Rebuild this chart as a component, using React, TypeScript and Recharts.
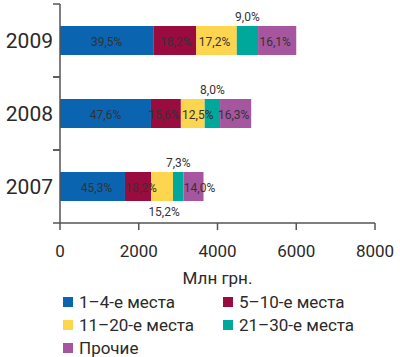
import React from "react";
import { BarChart, Bar, XAxis, YAxis, LabelList } from "recharts";

const YEARS = ["2009", "2008", "2007"];
const TOP4 = [2370, 2310, 1650];
const TOP10 = [1090, 760, 665];
const TOP20 = [1030, 605, 555];
const TOP30 = [540, 390, 265];
const OTHER = [970, 790, 510];

const PCT_TOP4 = ["39,5%", "47,6%", "45,3%"];
const PCT_TOP10 = ["18,2%", "15,6%", "18,2%"];
const PCT_TOP20 = ["17,2%", "12,5%", "15,2%"];
const PCT_TOP30 = ["9,0%", "8,0%", "7,3%"];
const PCT_OTHER = ["16,1%", "16,3%", "14,0%"];

const X_TICKS = [0, 2000, 4000, 6000, 8000];

const SERIES = [
  { key: "top4", name: "1–4-е места", color: "#0a64b0", vals: TOP4, pct: PCT_TOP4, place: ["in", "in", "in"], dx: [0, 0, 4] },
  { key: "top10", name: "5–10-е места", color: "#9a0b40", vals: TOP10, pct: PCT_TOP10, place: ["in", "in", "in"], dx: [1, -2, 3] },
  { key: "top20", name: "11–20-е места", color: "#fdd54e", vals: TOP20, pct: PCT_TOP20, place: ["in", "in", "bottom"], dx: [-2, 5, 2] },
  { key: "top30", name: "21–30-е места", color: "#00a89c", vals: TOP30, pct: PCT_TOP30, place: ["top", "top", "top"], dx: [0, 0, 0] },
  { key: "other", name: "Прочие", color: "#a5569f", vals: OTHER, pct: PCT_OTHER, place: ["in", "in", "in"], dx: [-2, -2, 6] },
];

const data = YEARS.map((year, i) => ({
  year,
  top4: TOP4[i],
  top10: TOP10[i],
  top20: TOP20[i],
  top30: TOP30[i],
  other: OTHER[i],
}));

const FONT = "Roboto, 'DejaVu Sans', sans-serif";
const TEXT = "#2a2a2a";
const AXIS = "#555";

// drawn on the last series so every label sits above all bars
const AllLabels = (props: any) => {
  const x = Number(props.x);
  const y = Number(props.y);
  const w = Number(props.width);
  const h = Number(props.height);
  const i = props.index;
  const last = SERIES[SERIES.length - 1];
  const k = w / last.vals[i];
  const total = SERIES.reduce((s, r) => s + r.vals[i], 0);
  const x0 = x + w - total * k;
  let cum = 0;
  return (
    <g>
      {SERIES.map((s) => {
        const start = x0 + cum * k;
        cum += s.vals[i];
        const sw = s.vals[i] * k;
        const p = s.place[i];
        const cy = p === "top" ? y - 9 : p === "bottom" ? y + h + 11 : y + h / 2 + 1;
        return (
          <text
            key={s.key}
            x={start + sw / 2 + s.dx[i]}
            y={cy}
            textAnchor="middle"
            dominantBaseline="central"
            fontSize={12}
            fontFamily={FONT}
            fill="#333"
          >
            {s.pct[i]}
          </text>
        );
      })}
    </g>
  );
};

const YTick = (props: any) => {
  const { x, y, payload } = props;
  const half = payload && payload.offset ? payload.offset : 36.5;
  return (
    <g>
      <text
        x={x - 7}
        y={y}
        textAnchor="end"
        dominantBaseline="central"
        fontSize={21}
        fontFamily={FONT}
        fill={TEXT}
      >
        {payload.value}
      </text>
      <line x1={x - 7} x2={x} y1={y - half} y2={y - half} stroke={AXIS} strokeWidth={1.5} />
      <line x1={x - 7} x2={x} y1={y + half} y2={y + half} stroke={AXIS} strokeWidth={1.5} />
    </g>
  );
};

export default function App() {
  return (
    <div style={{ position: "absolute", left: 0, top: 0, width: 400, height: 357, background: "#fff", fontFamily: FONT }}>
      <BarChart
        width={400}
        height={290}
        data={data}
        layout="vertical"
        barSize={29}
        margin={{ top: 4, right: 25, left: 0, bottom: 0 }}
      >
        <XAxis
          type="number"
          domain={[0, 8000]}
          ticks={X_TICKS}
          height={67}
          tickSize={7}
          tickMargin={15}
          stroke={AXIS}
          strokeWidth={1.5}
          tick={{ fontSize: 17, fill: TEXT, fontFamily: FONT }}
          label={{ value: "Млн грн.", position: "insideBottom", offset: 6, fontSize: 17, fill: TEXT, fontFamily: FONT }}
        />
        <YAxis
          type="category"
          dataKey="year"
          width={60}
          tickSize={0}
          tickMargin={0}
          tickLine={false}
          stroke={AXIS}
          strokeWidth={1.5}
          tick={<YTick />}
        />
        {SERIES.map((s, idx) => (
          <Bar key={s.key} dataKey={s.key} stackId="a" fill={s.color} isAnimationActive={false}>
            {idx === SERIES.length - 1 ? <LabelList dataKey={s.key} content={AllLabels} /> : null}
          </Bar>
        ))}
      </BarChart>
      <div style={{ position: "absolute", left: 0, top: 290, width: 400 }}>
        {SERIES.map((s, i) => (
          <div
            key={s.key}
            style={{
              position: "absolute",
              left: i % 2 === 0 ? 63 : 223,
              top: 2 + Math.floor(i / 2) * 23,
              display: "flex",
              alignItems: "center",
              height: 20,
              fontSize: 17,
              color: TEXT,
              whiteSpace: "nowrap",
            }}
          >
            <span style={{ display: "inline-block", width: 10, height: 10, background: s.color, marginRight: 6 }} />
            {s.name}
          </div>
        ))}
      </div>
    </div>
  );
}
